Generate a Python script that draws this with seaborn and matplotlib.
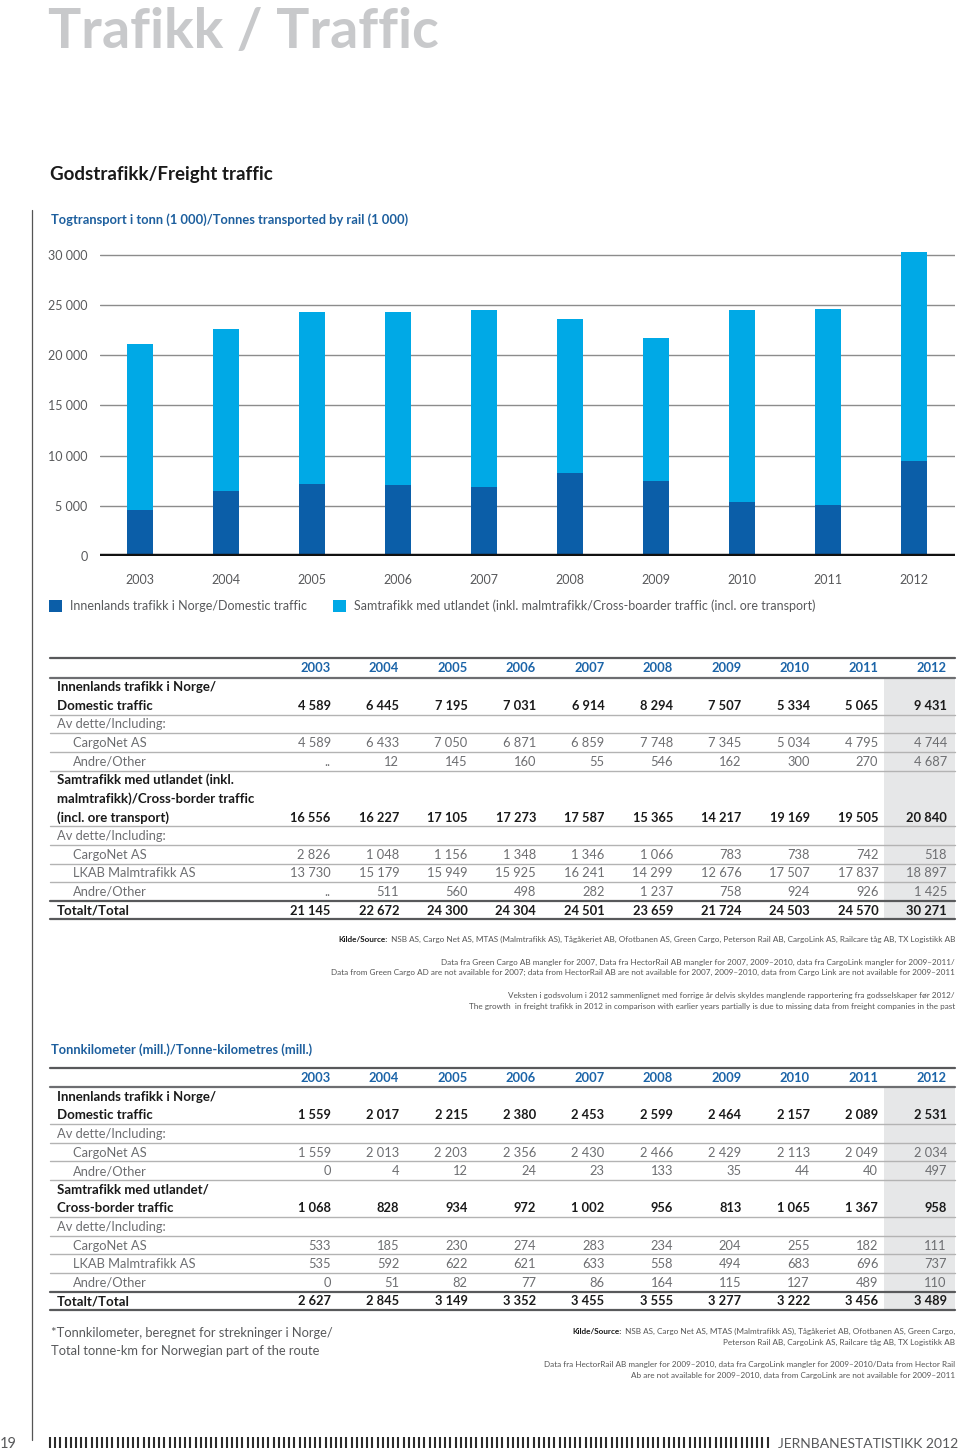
import numpy as np
import pandas as pd
import matplotlib
matplotlib.use("Agg")
import matplotlib.pyplot as plt
import seaborn as sns
from matplotlib.patches import Rectangle

# ---------------- data ----------------
years = ["2003", "2004", "2005", "2006", "2007", "2008", "2009", "2010", "2011", "2012"]

# Tonnes (1 000)
domestic_t = [4589, 6445, 7195, 7031, 6914, 8294, 7507, 5334, 5065, 9431]
cargonet_dom_t = [4589, 6433, 7050, 6871, 6859, 7748, 7345, 5034, 4795, 4744]
other_dom_t = [None, 12, 145, 160, 55, 546, 162, 300, 270, 4687]
cross_t = [16556, 16227, 17105, 17273, 17587, 15365, 14217, 19169, 19505, 20840]
cargonet_cross_t = [2826, 1048, 1156, 1348, 1346, 1066, 783, 738, 742, 518]
lkab_t = [13730, 15179, 15949, 15925, 16241, 14299, 12676, 17507, 17837, 18897]
other_cross_t = [None, 511, 560, 498, 282, 1237, 758, 924, 926, 1425]
total_t = [21145, 22672, 24300, 24304, 24501, 23659, 21724, 24503, 24570, 30271]

# Tonne-km (mill.)
domestic_km = [1559, 2017, 2215, 2380, 2453, 2599, 2464, 2157, 2089, 2531]
cargonet_dom_km = [1559, 2013, 2203, 2356, 2430, 2466, 2429, 2113, 2049, 2034]
other_dom_km = [0, 4, 12, 24, 23, 133, 35, 44, 40, 497]
cross_km = [1068, 828, 934, 972, 1002, 956, 813, 1065, 1367, 958]
cargonet_cross_km = [533, 185, 230, 274, 283, 234, 204, 255, 182, 111]
lkab_km = [535, 592, 622, 621, 633, 558, 494, 683, 696, 737]
other_cross_km = [0, 51, 82, 77, 86, 164, 115, 127, 489, 110]
total_km = [2627, 2845, 3149, 3352, 3455, 3555, 3277, 3222, 3456, 3489]

y_ticks = [0, 5000, 10000, 15000, 20000, 25000, 30000]
y_tick_labels = ["0", "5 000", "10 000", "15 000", "20 000", "25 000", "30 000"]

# ---------------- style ----------------
sns.set_theme(style="white")
FONT = "Lato"
plt.rcParams["font.family"] = [FONT, "DejaVu Sans"]

DARK = "#0b5ea8"
LIGHT = "#00a9e6"
BLUE_TXT = "#1d5f9e"
GREY_TXT = "#58595b"
LIGHT_TXT = "#6d6e71"
TITLE_GREY = "#c8c9cb"
SHADE = "#e6e7e8"
REG = "normal"

W, H = 960, 1452
fig = plt.figure(figsize=(W / 100, H / 100), dpi=100)
fig.patch.set_facecolor("white")

page = fig.add_axes([0, 0, 1, 1])
page.set_xlim(0, W)
page.set_ylim(H, 0)
page.set_axis_off()


def fmt(v):
    if v is None:
        return ".."
    return f"{v:,}".replace(",", " ")


# ---------------- headings ----------------
page.text(48, 48, "Trafikk / Traffic", fontsize=40, fontweight="bold",
          color=TITLE_GREY, ha="left", va="baseline")
page.text(50, 180, "Godstrafikk/Freight traffic", fontsize=13.5,
          fontweight="bold", color="#1a1a1a", ha="left", va="baseline")
page.text(51, 224, "Togtransport i tonn (1 000)/Tonnes transported by rail (1 000)",
          fontsize=9.3, fontweight="bold", color=BLUE_TXT, ha="left", va="baseline")

# vertical page rule
page.plot([32, 32], [210, 1440], color="#555555", lw=0.9)

# ---------------- bar chart ----------------
y0_px, y30_px = 556, 255
per = (y0_px - y30_px) / 30000.0
ymax = 31000
top_px = y0_px - ymax * per
x_left, x_right = 100, 955
c0, step = 140, 86.0
ax = fig.add_axes([x_left / W, 1 - y0_px / H, (x_right - x_left) / W, (y0_px - top_px) / H])
ax.set_facecolor("none")

df = pd.DataFrame({"year": years, "domestic": domestic_t, "cross": cross_t})
df["stack"] = df["domestic"] + df["cross"]

sns.barplot(data=df, x="year", y="stack", color=LIGHT, width=0.30,
            saturation=1, ax=ax, zorder=3)
sns.barplot(data=df, x="year", y="domestic", color=DARK, width=0.30,
            saturation=1, ax=ax, zorder=3)
for p in ax.patches:
    p.set_edgecolor("none")
    p.set_linewidth(0)

ax.set_xlim((x_left - c0) / step, (x_right - c0) / step)
ax.set_ylim(0, ymax)
ax.set_yticks(y_ticks)
ax.set_yticklabels(y_tick_labels)
ax.yaxis.grid(True, color="#8c8c8c", lw=1.0, zorder=0)
ax.xaxis.grid(False)
for s in ax.spines.values():
    s.set_visible(False)
ax.axhline(0, color="#111111", lw=3.2, zorder=4)
ax.tick_params(axis="y", length=0, pad=9, labelsize=9, labelcolor=GREY_TXT)
ax.tick_params(axis="x", length=0, pad=13, labelsize=9, labelcolor=GREY_TXT)
for lab in ax.get_yticklabels() + ax.get_xticklabels():
    lab.set_fontweight(REG)
ax.set_xlabel("")
ax.set_ylabel("")

# legend
page.add_patch(Rectangle((49, 600), 13, 12, color=DARK, lw=0))
page.text(70, 610, "Innenlands trafikk i Norge/Domestic traffic", fontsize=9,
          fontweight=REG, color=GREY_TXT, va="baseline")
page.add_patch(Rectangle((333, 600), 13, 12, color=LIGHT, lw=0))
page.text(354, 610, "Samtrafikk med utlandet (inkl. malmtrafikk/Cross-boarder traffic (incl. ore transport)",
          fontsize=9, fontweight=REG, color=GREY_TXT, va="baseline")

# ---------------- tables ----------------
col_right = [330.7 + 68.45 * i for i in range(10)]
LX, LX_IND = 57, 73
TL, TR = 50, 955
RH = 18.6


def draw_table(top, blocks):
    header_y = top + 10
    header_line = top + 19.5
    n_lines = sum(len(b[0]) for b in blocks)
    bottom = header_line + RH * n_lines
    page.add_patch(Rectangle((884, header_line), TR - 884, bottom - header_line,
                             color=SHADE, lw=0, zorder=0))
    page.plot([TL, TR], [top, top], color="#58595b", lw=1.6, zorder=2)
    for i, yr in enumerate(years):
        page.text(col_right[i], header_y + 4.5, yr, fontsize=9.3, fontweight="bold",
                  color="#1b64a8", ha="right", va="baseline")
    page.plot([TL, TR], [header_line, header_line], color="#6d6e71", lw=1.6, zorder=2)
    y = header_line
    for k, (labels, vals, kind) in enumerate(blocks):
        for j, lab in enumerate(labels):
            cy = y + RH / 2 + RH * j
            if kind in ("bold", "total"):
                page.text(LX, cy + 4.5, lab, fontsize=9.5, fontweight="bold",
                          color="#1a1a1a", va="baseline")
            elif kind == "head":
                page.text(LX, cy + 4.5, lab, fontsize=9.3, fontweight=REG,
                          color=LIGHT_TXT, va="baseline")
            else:
                page.text(LX_IND, cy + 4.5, lab, fontsize=9.3, fontweight=REG,
                          color=LIGHT_TXT, va="baseline")
        if vals is not None:
            cy = y + RH / 2 + RH * (len(labels) - 1)
            bold = kind in ("bold", "total")
            for i, v in enumerate(vals):
                page.text(col_right[i], cy + 4.5, fmt(v), fontsize=9.3,
                          fontweight="bold" if bold else REG,
                          color="#1a1a1a" if bold else LIGHT_TXT,
                          ha="right", va="baseline")
        y += RH * len(labels)
        nxt = blocks[k + 1][2] if k + 1 < len(blocks) else None
        if nxt == "total" or kind == "total":
            page.plot([TL, TR], [y, y], color="#58595b", lw=1.6, zorder=2)
        else:
            page.plot([TL, TR], [y, y], color="#b3b3b3", lw=1.0, zorder=2)


blocks1 = [
    (["Innenlands trafikk i Norge/", "Domestic traffic"], domestic_t, "bold"),
    (["Av dette/Including:"], None, "head"),
    (["CargoNet AS"], cargonet_dom_t, "sub"),
    (["Andre/Other"], other_dom_t, "sub"),
    (["Samtrafikk med utlandet (inkl.", "malmtrafikk)/Cross-border traffic",
      "(incl. ore transport)"], cross_t, "bold"),
    (["Av dette/Including:"], None, "head"),
    (["CargoNet AS"], cargonet_cross_t, "sub"),
    (["LKAB Malmtrafikk AS"], lkab_t, "sub"),
    (["Andre/Other"], other_cross_t, "sub"),
    (["Totalt/Total"], total_t, "total"),
]
draw_table(658, blocks1)

blocks2 = [
    (["Innenlands trafikk i Norge/", "Domestic traffic"], domestic_km, "bold"),
    (["Av dette/Including:"], None, "head"),
    (["CargoNet AS"], cargonet_dom_km, "sub"),
    (["Andre/Other"], other_dom_km, "sub"),
    (["Samtrafikk med utlandet/", "Cross-border traffic"], cross_km, "bold"),
    (["Av dette/Including:"], None, "head"),
    (["CargoNet AS"], cargonet_cross_km, "sub"),
    (["LKAB Malmtrafikk AS"], lkab_km, "sub"),
    (["Andre/Other"], other_cross_km, "sub"),
    (["Totalt/Total"], total_km, "total"),
]
page.text(51, 1054, "Tonnkilometer (mill.)/Tonne-kilometres (mill.)", fontsize=9.3,
          fontweight="bold", color=BLUE_TXT, ha="left", va="baseline")
draw_table(1067.5, blocks2)

# ---------------- notes ----------------
NOTE = 5.9
NOTE_C = "#555555"


def source_line(y, rest, size=NOTE):
    t = page.text(955, y, rest, fontsize=size, color=NOTE_C, ha="right", va="baseline")
    fig.canvas.draw()
    bb = t.get_window_extent()
    inv = page.transData.inverted()
    x_left_px = inv.transform((bb.x0, bb.y0))[0]
    page.text(x_left_px - 1, y, "Kilde/Source:", fontsize=size, fontweight="bold",
              color="#1a1a1a", ha="right", va="baseline")


source_line(942, " NSB AS, Cargo Net AS, MTAS (Malmtrafikk AS), Tågåkeriet AB, Ofotbanen AS, Green Cargo, "
                 "Peterson Rail AB, CargoLink AS, Railcare tåg AB, TX Logistikk AB")
page.text(955, 965, "Data fra Green Cargo AB mangler for 2007, Data fra HectorRail AB mangler for 2007, "
          "2009–2010, data fra CargoLink mangler for 2009–2011/", fontsize=NOTE, color=NOTE_C,
          ha="right", va="baseline")
page.text(955, 975, "Data from Green Cargo AD are not available for 2007; data from HectorRail AB are not "
          "available for 2007, 2009–2010, data from Cargo Link are not available for 2009–2011",
          fontsize=NOTE, color=NOTE_C, ha="right", va="baseline")
page.text(955, 998, "Veksten i godsvolum i 2012 sammenlignet med forrige år delvis skyldes manglende "
          "rapportering fra godsselskaper før 2012/", fontsize=NOTE, color=NOTE_C,
          ha="right", va="baseline")
page.text(955, 1009, "The growth  in freight trafikk in 2012 in comparison with earlier years partially "
          "is due to missing data from freight companies in the past", fontsize=NOTE, color=NOTE_C,
          ha="right", va="baseline")

page.text(51, 1337, "*Tonnkilometer, beregnet for strekninger i Norge/", fontsize=9.3,
          fontweight=REG, color=GREY_TXT, va="baseline")
page.text(51, 1355, "Total tonne-km for Norwegian part of the route", fontsize=9.3,
          fontweight=REG, color=GREY_TXT, va="baseline")

source_line(1334, " NSB AS, Cargo Net AS, MTAS (Malmtrafikk AS), Tågåkeriet AB, Ofotbanen AS, Green Cargo,")
page.text(955, 1345, "Peterson Rail AB, CargoLink AS, Railcare tåg AB, TX Logistikk AB", fontsize=NOTE,
          color=NOTE_C, ha="right", va="baseline")
page.text(955, 1367, "Data fra HectorRail AB mangler for 2009–2010, data fra CargoLink mangler for "
          "2009–2010/Data from Hector Rail", fontsize=NOTE, color=NOTE_C, ha="right", va="baseline")
page.text(955, 1378, "Ab are not available for 2009–2010, data from CargoLink are not available for 2009–2011",
          fontsize=NOTE, color=NOTE_C, ha="right", va="baseline")

# ---------------- footer ----------------
page.text(0, 1448, "19", fontsize=10.5, fontweight=REG, color=GREY_TXT, va="baseline")
bx = np.arange(50, 772, 5.2)
page.vlines(bx, 1437, 1448, color="#2b2b2b", lw=1.5)
page.text(958, 1448, "JERNBANESTATISTIKK 2012", fontsize=10, fontweight=REG,
          color=GREY_TXT, ha="right", va="baseline")

fig.savefig("out.png", dpi=100, facecolor="white")
